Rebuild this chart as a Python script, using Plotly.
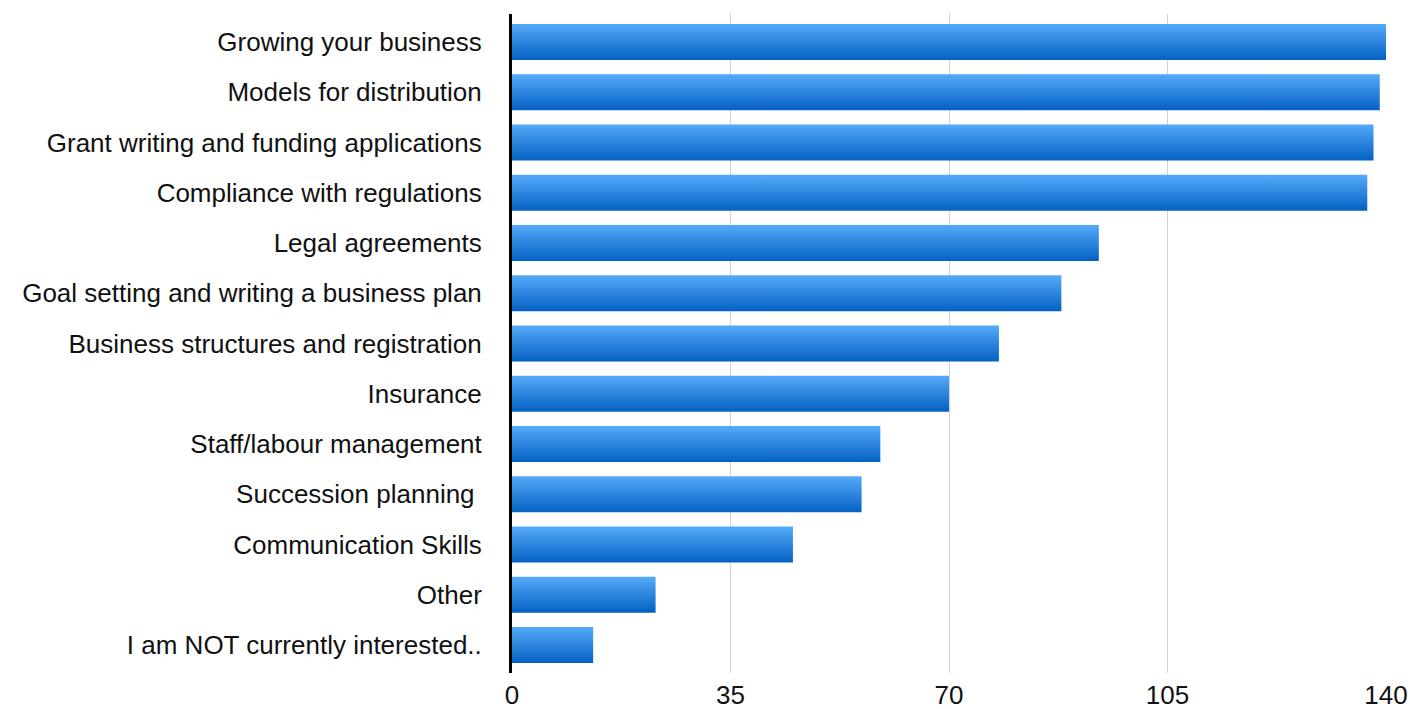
import plotly.graph_objects as go

# Survey topics of interest (top to bottom) and number of responses
topics = [
    "Growing your business",
    "Models for distribution",
    "Grant writing and funding applications",
    "Compliance with regulations",
    "Legal agreements",
    "Goal setting and writing a business plan",
    "Business structures and registration",
    "Insurance",
    "Staff/labour management",
    "Succession planning ",
    "Communication Skills",
    "Other",
    "I am NOT currently interested..",
]
responses = [140, 139, 138, 137, 94, 88, 78, 70, 59, 56, 45, 23, 13]
x_ticks = [0, 35, 70, 105, 140]

LIGHT = "#55aaf9"
DARK = "#0461c3"
HALF = 0.358  # half bar thickness in category units

fig = go.Figure()
for i, (name, val) in enumerate(zip(topics, responses)):
    y0, y1 = i - HALF, i + HALF
    fig.add_trace(go.Scatter(
        x=[0, val, val, 0, 0],
        y=[y0, y0, y1, y1, y0],
        mode="lines",
        line=dict(width=0),
        fill="toself",
        fillgradient=dict(type="vertical", colorscale=[[0, DARK], [1, LIGHT]]),
        name=name,
        hoverinfo="skip",
        showlegend=False,
    ))

fig.update_layout(
    template="none",
    width=1410,
    height=709,
    margin=dict(l=512, r=24, t=14, b=36, pad=0),
    paper_bgcolor="white",
    plot_bgcolor="white",
    font=dict(family="Liberation Sans, Arial, Helvetica, sans-serif", size=26, color="#111111"),
    xaxis=dict(
        range=[0, 140],
        tickvals=x_ticks,
        ticktext=[str(v) for v in x_ticks],
        showgrid=True,
        gridcolor="#d2d2d2",
        gridwidth=1,
        zeroline=False,
        showline=False,
        ticks="",
        ticklabelstandoff=4,
        automargin=False,
        tickfont=dict(size=26),
    ),
    yaxis=dict(
        range=[len(topics) - 1 + 0.557, -0.557],
        tickvals=list(range(len(topics))),
        ticktext=topics,
        showgrid=False,
        zeroline=False,
        showline=True,
        linecolor="black",
        linewidth=3,
        ticks="",
        ticklabelstandoff=22,
        automargin=False,
        tickfont=dict(size=26),
    ),
)

fig.write_html("out.html")
